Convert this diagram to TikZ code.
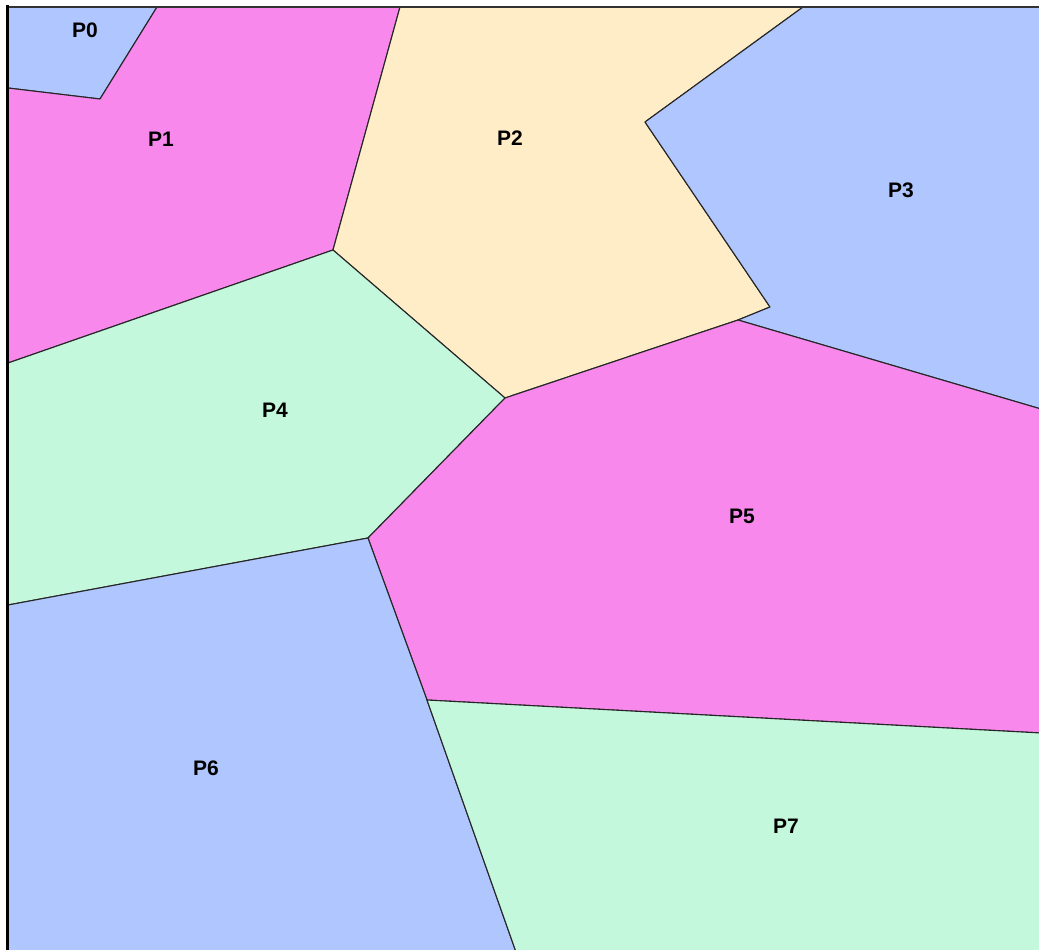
\documentclass[tikz,border=0pt]{standalone}
\usepackage{fontspec}
\setmainfont{Liberation Sans}
\definecolor{cblue}{RGB}{175,198,255}
\definecolor{cpink}{RGB}{248,136,236}
\definecolor{ccream}{RGB}{255,237,200}
\definecolor{cmint}{RGB}{196,248,220}
\begin{document}
\begin{tikzpicture}[x=1pt,y=-1pt,
  region/.style={draw=black!85,line width=1.1pt,line join=round},
  lbl/.style={font=\fontsize{21}{21}\selectfont\bfseries,text=black}]
\useasboundingbox (0,0) rectangle (1039,950);
\fill[white] (0,0) rectangle (1039,950);
% vertices
\coordinate (tl) at (8,7);
\coordinate (tr) at (1041,7);
\coordinate (br) at (1041,952);
\coordinate (bl) at (8,952);
\coordinate (a) at (157,7);
\coordinate (b) at (100,99);
\coordinate (c) at (8,88);
\coordinate (d) at (400,7);
\coordinate (e) at (333,250);
\coordinate (f) at (8,363);
\coordinate (g) at (505,398);
\coordinate (h) at (803,7);
\coordinate (i) at (645,122);
\coordinate (j) at (770,307);
\coordinate (k) at (738,320);
\coordinate (l) at (1041,409);
\coordinate (m) at (368,538);
\coordinate (n) at (8,605);
\coordinate (o) at (427,700);
\coordinate (p) at (1041,733);
\coordinate (q) at (516,952);
% regions
\filldraw[region,fill=cblue] (tl) -- (a) -- (b) -- (c) -- cycle;
\filldraw[region,fill=cpink] (a) -- (d) -- (e) -- (f) -- (c) -- (b) -- cycle;
\filldraw[region,fill=ccream] (d) -- (h) -- (i) -- (j) -- (k) -- (g) -- (e) -- cycle;
\filldraw[region,fill=cblue] (h) -- (tr) -- (l) -- (k) -- (j) -- (i) -- cycle;
\filldraw[region,fill=cmint] (e) -- (g) -- (m) -- (n) -- (f) -- cycle;
\filldraw[region,fill=cpink] (g) -- (k) -- (l) -- (p) -- (o) -- (m) -- cycle;
\filldraw[region,fill=cblue] (n) -- (m) -- (o) -- (q) -- (bl) -- cycle;
\filldraw[region,fill=cmint] (o) -- (p) -- (br) -- (q) -- cycle;
% frame
\draw[black!80,line width=1.4pt] (8,7) -- (1039,7);
\draw[black,line width=3pt] (7,5.5) -- (7,950);
% labels
\node[lbl] (P0) at (85,30) {P0};
\node[lbl] (P1) at (161,139) {P1};
\node[lbl] (P2) at (510,138) {P2};
\node[lbl] (P3) at (901,190) {P3};
\node[lbl] (P4) at (275,410) {P4};
\node[lbl] (P5) at (742,516) {P5};
\node[lbl] (P6) at (206,768) {P6};
\node[lbl] (P7) at (786,826) {P7};
\end{tikzpicture}
\end{document}
